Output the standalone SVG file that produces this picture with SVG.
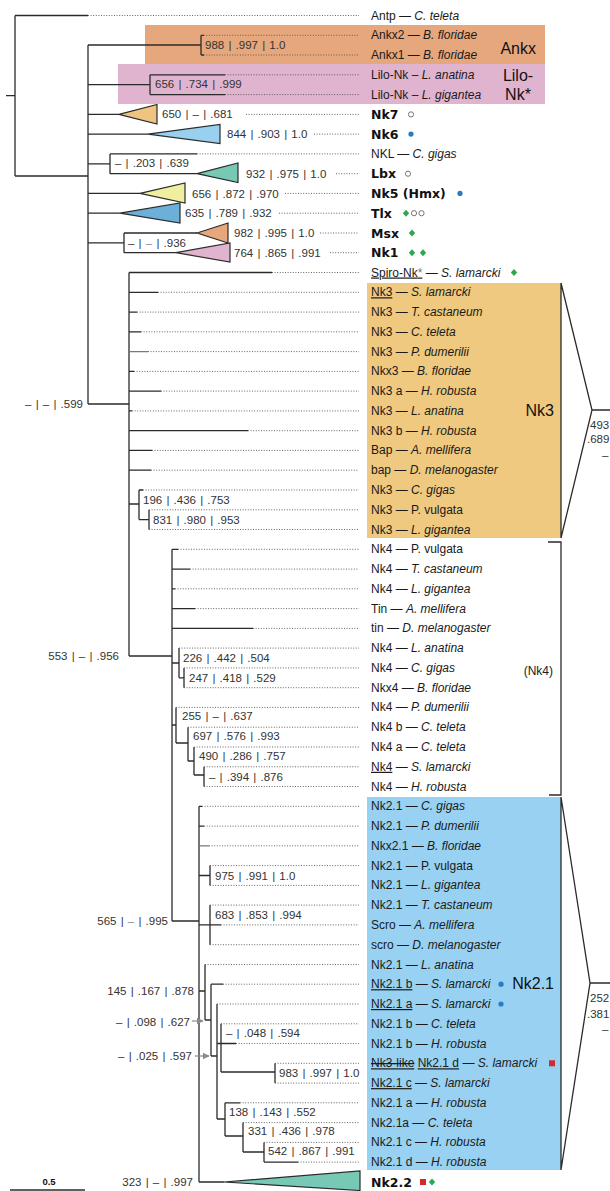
<svg xmlns="http://www.w3.org/2000/svg" width="610" height="1191" viewBox="0 0 610 1191">
<style>
.br{fill:none;stroke:#2b2b2b;stroke-width:1.3}
.gr{fill:none;stroke:#7a7a7a;stroke-width:1.3}
.dt{fill:none;stroke:#555;stroke-width:0.9;stroke-dasharray:1 1.6}
.lb{font-family:"Liberation Sans",Arial,sans-serif;font-size:12px;fill:#1a1a1a}
.bd{font-family:"DejaVu Sans",sans-serif;font-weight:bold;font-size:12.5px;fill:#111}
.sp{font-family:"Liberation Sans",Arial,sans-serif;font-size:11.5px;fill:#333;word-spacing:1px}
.big{font-family:"Liberation Sans",Arial,sans-serif;font-size:16px;fill:#111}
.i{font-style:italic}
.u{text-decoration:underline}
.tri{stroke:#2b2b2b;stroke-width:1.2}
.gd{fill:#2ea84f}
.bdot{fill:#2b7bc0}
.od{fill:none;stroke:#666;stroke-width:0.9}
.rs{fill:#d42a2a}
</style>
<defs>
<marker id="ah" viewBox="0 0 10 10" refX="9" refY="5" markerWidth="6" markerHeight="6" orient="auto"><path d="M0 0 L10 5 L0 10 z" fill="#8a8a8a"/></marker>
</defs>

<!-- clade boxes -->
<g id="box-ankx"><rect x="145" y="25" width="400" height="39" fill="#E6A77D"/><text class="big" x="536" y="54" text-anchor="end">Ankx</text></g>
<g id="box-lilo"><rect x="118" y="64" width="427" height="40" fill="#E0B3CE"/><text class="big" x="518" y="81" text-anchor="middle">Lilo-</text><text class="big" x="518" y="100" text-anchor="middle">Nk*</text></g>
<g id="box-nk3"><rect x="367" y="283" width="194" height="255" fill="#EEC97F"/><text class="big" x="554" y="416" text-anchor="end">Nk3</text>
<path class="br" d="M561 283 V538 M561 283 L592 410 L561 538 M592 410 H610"/>
<text class="sp" x="590" y="429">493</text><text class="sp" x="587" y="443">.689</text><text class="sp" x="602" y="459">–</text></g>
<g id="box-nk4"><path class="br" d="M548 542 H561 V795 H549"/><text class="lb" x="553" y="675" text-anchor="end">(Nk4)</text></g>
<g id="box-nk21"><rect x="367" y="797" width="194" height="373" fill="#98D1F1"/><text class="big" x="554" y="989" text-anchor="end" font-size="17">Nk2.1</text>
<path class="br" d="M561 797 V1170 M561 797 L590 983 L561 1170 M590 983 H610"/>
<text class="sp" x="590" y="1002">252</text><text class="sp" x="587" y="1018">.381</text><text class="sp" x="602" y="1033">–</text></g>

<!-- connectors -->
<g id="connectors">
<path class="br" d="M6 95.7 H15 M15 15.5 V176 M15 15.5 H88 M15 176 H88 M88 45 V404
M88 45 H201 M201 35.3 V55 M201 35.3 H204 M201 55 H204
M88 84.7 H150 M150 74.8 V94.6 M150 74.8 H225 M150 94.6 H225
M88 114.4 H119 M88 134.1 H148
M88 163.8 H110 M110 153.9 V173.7 M110 153.9 H197 M110 173.7 H197
M88 193.4 H140 M88 213.2 H120
M88 242.9 H124 M124 233 V252.7 M124 233 H197 M124 252.7 H176
M88 404 H129 M129 272.5 V656 M129 272.5 H272
M129 292.3 H158 M129 312.1 H137 M129 331.8 H141 M129 371.4 H134 M129 391.1 H161 M129 410.9 H132 M129 430.7 H248 M129 450.4 H152 M129 470.2 H151
M129 504 H139 M139 490 V519.6 M139 490 H143 M139 519.6 H149 M149 509.8 V529.5
M129 656 H172 M172 549.3 V921
M172 549.3 H178 M172 569.1 H190 M172 588.8 H175 M172 608.6 H195 M172 628.4 H253
M172 663 H179 M179 648.1 V677.8 M179 677.8 H184 M184 667.9 V687.7
M172 725 H176 M176 707.4 V743 M176 743 H188 M188 727.2 V761 M188 761 H194 M194 747 V775 M194 775 H204 M204 766.8 V786.5
M172 921 H199 M199 806.3 V1182
M199 806.3 H202 M199 826.1 H204
M199 875.5 H210 M210 865.6 V885.4
M199 924.9 H221 M210 905.1 V944.7
M199 991 H205 M205 964.5 V1020 M205 1020 H211 M211 984.2 V1056 M211 984.2 H223
M211 1056 H217 M217 1004 V1119 M217 1043.5 H236 M221 1023.8 V1072
M221 1072 H275 M275 1063.3 V1083.1
M217 1119 H225 M225 1102.8 V1136 M225 1102.8 H240
M225 1136 H243 M243 1122.6 V1152 M243 1152 H264 M264 1142.4 V1162.1 M264 1162.1 H298
M199 1182 H224"/>
<path class="gr" d="M129 351.6 H148 M199 845.8 H209"/>
<path class="dt" d="M88 15.5 H359 M201 35.3 H359 M201 55 H359 M225 74.8 H359 M225 94.6 H359
M246 114.4 H359 M314 134.1 H359 M197 153.9 H359 M336 173.7 H359 M285 193.4 H359 M279 213.2 H359 M320 233 H359 M330 252.7 H359
M272 272.5 H359 M158 292.3 H359 M137 312.1 H359 M141 331.8 H359 M148 351.6 H359 M134 371.4 H359 M161 391.1 H359 M132 410.9 H359 M248 430.7 H359 M152 450.4 H359 M151 470.2 H359
M143 490 H359 M149 509.8 H359 M149 529.5 H359
M178 549.3 H359 M190 569.1 H359 M175 588.8 H359 M195 608.6 H359 M253 628.4 H359
M179 648.1 H359 M184 667.9 H359 M184 687.7 H359 M176 707.4 H359 M188 727.2 H359 M194 747 H359 M204 766.8 H359 M204 786.5 H359
M202 806.3 H359 M204 826.1 H359 M209 845.8 H359 M210 865.6 H359 M210 885.4 H359 M210 905.1 H359 M221 924.9 H359 M210 944.7 H359
M205 964.5 H359 M223 984.2 H359 M217 1004 H359 M221 1023.8 H359 M236 1043.5 H359 M275 1063.3 H359 M275 1083.1 H359
M240 1102.8 H359 M243 1122.6 H359 M264 1142.4 H359 M298 1162.1 H359"/>
<path d="M192 1021 H203" stroke="#8a8a8a" stroke-width="1.2" marker-end="url(#ah)"/>
<path d="M195 1056 H209" stroke="#8a8a8a" stroke-width="1.2" marker-end="url(#ah)"/>
</g>

<!-- support values -->
<g id="supports" class="sp">
<text x="205" y="49">988 | .997 | 1.0</text>
<text x="155" y="88">656 | .734 | .999</text>
<text x="162" y="118">650 | – | .681</text>
<text x="227" y="138">844 | .903 | 1.0</text>
<text x="115" y="167">– | .203 | .639</text>
<text x="246" y="178">932 | .975 | 1.0</text>
<text x="192" y="197.5">656 | .872 | .970</text>
<text x="185" y="217">635 | .789 | .932</text>
<text x="234" y="237">982 | .995 | 1.0</text>
<text x="128" y="246.5">– | <tspan fill="#888">–</tspan> | .936</text>
<text x="234" y="257">764 | .865 | .991</text>
<text x="83" y="408" text-anchor="end">– | – | .599</text>
<text x="143" y="504">196 | .436 | .753</text>
<text x="153" y="523.5">831 | .980 | .953</text>
<text x="119" y="660" text-anchor="end">553 | – | .956</text>
<text x="183" y="662">226 | .442 | .504</text>
<text x="189" y="682">247 | .418 | .529</text>
<text x="182" y="720">255 | – | .637</text>
<text x="193" y="740">697 | .576 | .993</text>
<text x="199" y="760">490 | .286 | .757</text>
<text x="209" y="781">– | .394 | .876</text>
<text x="215" y="880">975 | .991 | 1.0</text>
<text x="168" y="925" text-anchor="end">565 | <tspan fill="#888">–</tspan> | .995</text>
<text x="215" y="919">683 | .853 | .994</text>
<text x="194" y="995" text-anchor="end">145 | .167 | .878</text>
<text x="190" y="1026" text-anchor="end">– | .098 | .627</text>
<text x="192" y="1060" text-anchor="end">– | .025 | .597</text>
<text x="226" y="1037">– | .048 | .594</text>
<text x="279" y="1077">983 | .997 | 1.0</text>
<text x="229" y="1116">138 | .143 | .552</text>
<text x="248" y="1135">331 | .436 | .978</text>
<text x="268" y="1155">542 | .867 | .991</text>
<text x="193" y="1186" text-anchor="end">323 | – | .997</text>
</g>

<!-- collapsed clades -->
<g id="nk7"><polygon class="tri" points="119,114.4 157,104.5 157,124" fill="#EEC480"/><text class="bd" x="371" y="119">Nk7</text><circle class="od" cx="411" cy="114.4" r="2.6"/></g>
<g id="nk6"><polygon class="tri" points="148,134.1 220,124.5 220,143.5" fill="#99CFEF"/><text class="bd" x="371" y="138.7">Nk6</text><circle class="bdot" cx="411" cy="134.1" r="2.6"/></g>
<g id="lbx"><polygon class="tri" points="197,173.7 238,163 238,182.5" fill="#77C8B5"/><text class="bd" x="371" y="178.3">Lbx</text><circle class="od" cx="408" cy="173.7" r="2.6"/></g>
<g id="nk5"><polygon class="tri" points="140,193.4 185,183 185,203" fill="#EFEF9F"/><text class="bd" x="371" y="198">Nk5 (Hmx)</text><circle class="bdot" cx="460" cy="193.4" r="2.6"/></g>
<g id="tlx"><polygon class="tri" points="120,213.2 180,203 180,223" fill="#6CAFD9"/><text class="bd" x="371" y="217.8">Tlx</text><polygon class="gd" points="406,209.7 409.2,213.2 406,216.7 402.8,213.2"/><circle class="od" cx="414" cy="213.2" r="2.6"/><circle class="od" cx="421.5" cy="213.2" r="2.6"/></g>
<g id="msx"><polygon class="tri" points="197,233 228,223 228,243" fill="#E6A77D"/><text class="bd" x="371" y="237.6">Msx</text><polygon class="gd" points="412,229.5 415.2,233 412,236.5 408.8,233"/></g>
<g id="nk1"><polygon class="tri" points="176,252.7 230,243 230,262" fill="#E0B3CE"/><text class="bd" x="371" y="257.3">Nk1</text><polygon class="gd" points="412,249.2 415.2,252.7 412,256.2 408.8,252.7"/><polygon class="gd" points="423,249.2 426.2,252.7 423,256.2 419.8,252.7"/></g>
<g id="nk22"><polygon class="tri" points="224,1182 360,1171 360,1190.5" fill="#77C8B5"/><text class="bd" x="371" y="1186.5">Nk2.2</text><rect class="rs" x="420" y="1179" width="6" height="6"/><polygon class="gd" points="432,1178.4 435.2,1181.9 432,1185.4 428.8,1181.9"/></g>

<!-- leaves -->
<g class="lb">
<g id="antp"><text x="371" y="19.5">Antp — <tspan class="i">C. teleta</tspan></text></g>
<g id="ankx2"><text x="371" y="39.3">Ankx2 — <tspan class="i">B. floridae</tspan></text></g>
<g id="ankx1"><text x="371" y="59">Ankx1 — <tspan class="i">B. floridae</tspan></text></g>
<g id="lilo-la"><text x="371" y="78.8">Lilo-Nk – <tspan class="i">L. anatina</tspan></text></g>
<g id="lilo-lg"><text x="371" y="98.6">Lilo-Nk – <tspan class="i">L. gigantea</tspan></text></g>
<g id="nkl"><text x="371" y="157.9">NKL — <tspan class="i">C. gigas</tspan></text></g>
<g id="spiro"><text x="371" y="276.5"><tspan class="u">Spiro-Nk<tspan fill="#777">*</tspan></tspan> — <tspan class="i">S. lamarcki</tspan></text><polygon class="gd" points="514,269 517.2,272.5 514,276 510.8,272.5"/></g>
<g id="nk3-sl"><text x="371" y="296.3"><tspan class="u">Nk3</tspan> — <tspan class="i">S. lamarcki</tspan></text></g>
<g id="nk3-tc"><text x="371" y="316.1">Nk3 — <tspan class="i">T. castaneum</tspan></text></g>
<g id="nk3-ct"><text x="371" y="335.8">Nk3 — <tspan class="i">C. teleta</tspan></text></g>
<g id="nk3-pd"><text x="371" y="355.6">Nk3 — <tspan class="i">P. dumerilii</tspan></text></g>
<g id="nkx3-bf"><text x="371" y="375.4">Nkx3 — <tspan class="i">B. floridae</tspan></text></g>
<g id="nk3a-hr"><text x="371" y="395.1">Nk3 a — <tspan class="i">H. robusta</tspan></text></g>
<g id="nk3-la"><text x="371" y="414.9">Nk3 — <tspan class="i">L. anatina</tspan></text></g>
<g id="nk3b-hr"><text x="371" y="434.7">Nk3 b — <tspan class="i">H. robusta</tspan></text></g>
<g id="bap-am"><text x="371" y="454.4">Bap — <tspan class="i">A. mellifera</tspan></text></g>
<g id="bap-dm"><text x="371" y="474.2">bap — <tspan class="i">D. melanogaster</tspan></text></g>
<g id="nk3-cg"><text x="371" y="494">Nk3 — <tspan class="i">C. gigas</tspan></text></g>
<g id="nk3-pv"><text x="371" y="513.8">Nk3 — P. vulgata</text></g>
<g id="nk3-lg"><text x="371" y="533.5">Nk3 — <tspan class="i">L. gigantea</tspan></text></g>
<g id="nk4-pv"><text x="371" y="553.3">Nk4 — P. vulgata</text></g>
<g id="nk4-tc"><text x="371" y="573.1">Nk4 — <tspan class="i">T. castaneum</tspan></text></g>
<g id="nk4-lg"><text x="371" y="592.8">Nk4 — <tspan class="i">L. gigantea</tspan></text></g>
<g id="tin-am"><text x="371" y="612.6">Tin — <tspan class="i">A. mellifera</tspan></text></g>
<g id="tin-dm"><text x="371" y="632.4">tin — <tspan class="i">D. melanogaster</tspan></text></g>
<g id="nk4-la"><text x="371" y="652.1">Nk4 — <tspan class="i">L. anatina</tspan></text></g>
<g id="nk4-cg"><text x="371" y="671.9">Nk4 — <tspan class="i">C. gigas</tspan></text></g>
<g id="nkx4-bf"><text x="371" y="691.7">Nkx4 — <tspan class="i">B. floridae</tspan></text></g>
<g id="nk4-pd"><text x="371" y="711.4">Nk4 — <tspan class="i">P. dumerilii</tspan></text></g>
<g id="nk4b-ct"><text x="371" y="731.2">Nk4 b — <tspan class="i">C. teleta</tspan></text></g>
<g id="nk4a-ct"><text x="371" y="751">Nk4 a — <tspan class="i">C. teleta</tspan></text></g>
<g id="nk4-sl"><text x="371" y="770.8"><tspan class="u">Nk4</tspan> — <tspan class="i">S. lamarcki</tspan></text></g>
<g id="nk4-hr"><text x="371" y="790.5">Nk4 — <tspan class="i">H. robusta</tspan></text></g>
<g id="nk21-cg"><text x="371" y="810.3">Nk2.1 — <tspan class="i">C. gigas</tspan></text></g>
<g id="nk21-pd"><text x="371" y="830.1">Nk2.1 — <tspan class="i">P. dumerilii</tspan></text></g>
<g id="nkx21-bf"><text x="371" y="849.8">Nkx2.1 — <tspan class="i">B. floridae</tspan></text></g>
<g id="nk21-pv"><text x="371" y="869.6">Nk2.1 — P. vulgata</text></g>
<g id="nk21-lg"><text x="371" y="889.4">Nk2.1 — <tspan class="i">L. gigantea</tspan></text></g>
<g id="nk21-tc"><text x="371" y="909.1">Nk2.1 — <tspan class="i">T. castaneum</tspan></text></g>
<g id="scro-am"><text x="371" y="928.9">Scro — <tspan class="i">A. mellifera</tspan></text></g>
<g id="scro-dm"><text x="371" y="948.7">scro — <tspan class="i">D. melanogaster</tspan></text></g>
<g id="nk21-la"><text x="371" y="968.5">Nk2.1 — <tspan class="i">L. anatina</tspan></text></g>
<g id="nk21b-sl"><text x="371" y="988.2"><tspan class="u">Nk2.1 b</tspan> — <tspan class="i">S. lamarcki</tspan></text><circle class="bdot" cx="501" cy="984.2" r="2.6"/></g>
<g id="nk21a-sl"><text x="371" y="1008"><tspan class="u">Nk2.1 a</tspan> — <tspan class="i">S. lamarcki</tspan></text><circle class="bdot" cx="501" cy="1004" r="2.6"/></g>
<g id="nk21b-ct"><text x="371" y="1027.8">Nk2.1 b — <tspan class="i">C. teleta</tspan></text></g>
<g id="nk21b-hr"><text x="371" y="1047.5">Nk2.1 b — <tspan class="i">H. robusta</tspan></text></g>
<g id="nk21d-sl"><text x="371" y="1067.3"><tspan style="text-decoration:underline line-through">Nk3-like</tspan> <tspan class="u">Nk2.1 d</tspan> — <tspan class="i">S. lamarcki</tspan></text><rect class="rs" x="549" y="1060.3" width="6" height="6"/></g>
<g id="nk21c-sl"><text x="371" y="1087.1"><tspan class="u">Nk2.1 c</tspan> — <tspan class="i">S. lamarcki</tspan></text></g>
<g id="nk21a-hr"><text x="371" y="1106.8">Nk2.1 a — <tspan class="i">H. robusta</tspan></text></g>
<g id="nk21a-ct"><text x="371" y="1126.6">Nk2.1a — <tspan class="i">C. teleta</tspan></text></g>
<g id="nk21c-hr"><text x="371" y="1146.4">Nk2.1 c — <tspan class="i">H. robusta</tspan></text></g>
<g id="nk21d-hr"><text x="371" y="1166.1">Nk2.1 d — <tspan class="i">H. robusta</tspan></text></g>
</g>

<!-- scale bar -->
<g id="scale"><text x="49" y="1185" text-anchor="middle" font-family="Liberation Sans, Arial, sans-serif" font-weight="bold" font-size="9.5" fill="#111">0.5</text><path class="br" d="M10 1190 H85"/></g>
</svg>
